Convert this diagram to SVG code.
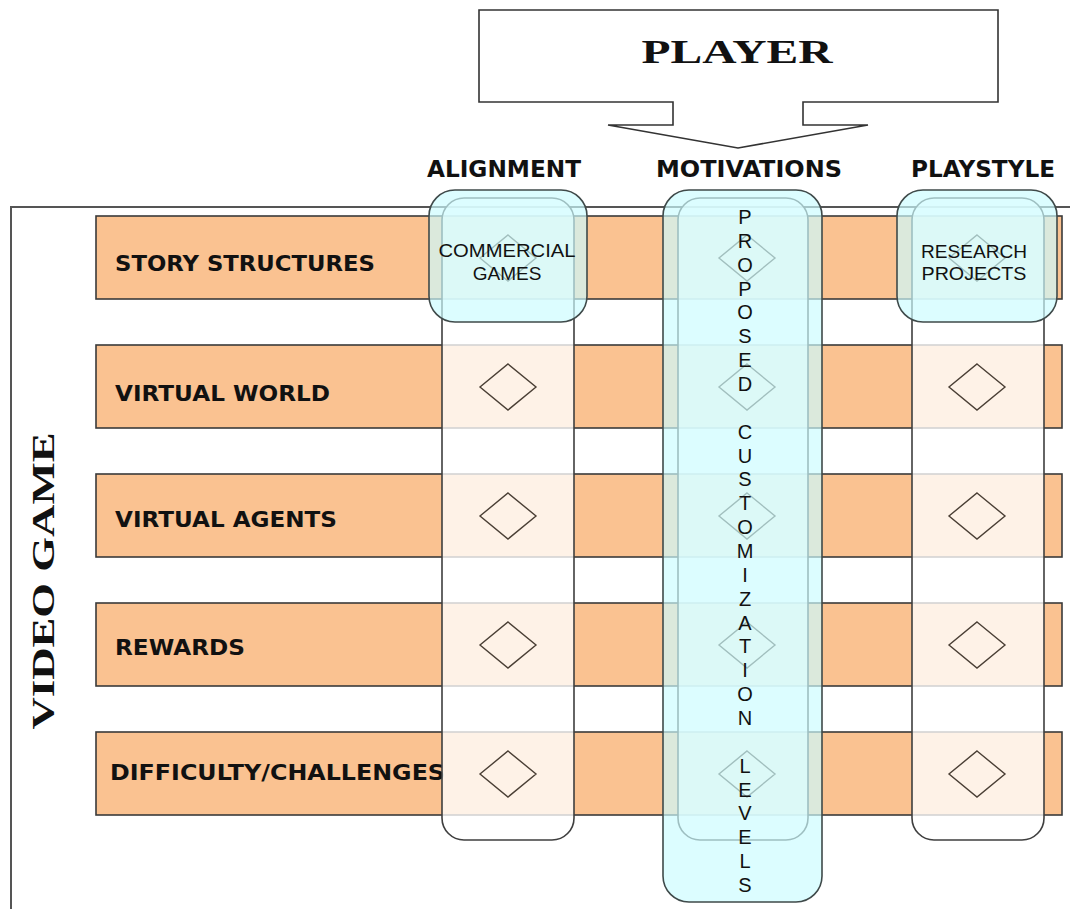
<svg xmlns="http://www.w3.org/2000/svg" width="1070" height="909" viewBox="0 0 1070 909">
<style>
.bar{fill:#FAC291;stroke:#3a3a3a;stroke-width:1.6}
.col{fill:#ffffff;fill-opacity:0.78;stroke:#3f3f3f;stroke-width:1.6}
.cyan{fill:#CCFCFF;fill-opacity:0.68;stroke:#3f4a4a;stroke-width:1.6}
.dia{fill:none;stroke:#4a3f35;stroke-width:1.4}
.row{font-family:"DejaVu Sans",Verdana,sans-serif;font-weight:bold;font-size:22px;fill:#111}
.hdr{font-family:"DejaVu Sans",Verdana,sans-serif;font-weight:bold;font-size:23px;fill:#111;text-anchor:middle}
.lab{font-family:"Liberation Sans",Arial,sans-serif;font-size:19px;fill:#111;text-anchor:middle}
.vl{font-family:"Liberation Sans",Arial,sans-serif;font-size:20px;fill:#111;text-anchor:middle}
</style>
<rect width="1070" height="909" fill="#ffffff"/>
<g id="video-game-frame">
<path d="M11,909 V207 H1070" fill="none" stroke="#555" stroke-width="2"/>
<text transform="translate(54,581) rotate(-90)" text-anchor="middle" font-family="Liberation Serif,'Times New Roman',serif" font-weight="bold" font-size="31" fill="#111" textLength="297" lengthAdjust="spacingAndGlyphs">VIDEO GAME</text>
</g>
<g id="player">
<path d="M479,10 H998 V102 H803 V125 H868 L738,148 L608,125 H673 V102 H479 Z" fill="#fff" stroke="#333" stroke-width="1.6"/>
<text x="737" y="63" text-anchor="middle" font-family="Liberation Serif,'Times New Roman',serif" font-weight="bold" font-size="34" fill="#111" textLength="191" lengthAdjust="spacingAndGlyphs">PLAYER</text>
</g>
<g id="headers">
<text class="hdr" x="504" y="177" textLength="154" lengthAdjust="spacingAndGlyphs">ALIGNMENT</text>
<text class="hdr" x="749" y="177" textLength="186" lengthAdjust="spacingAndGlyphs">MOTIVATIONS</text>
<text class="hdr" x="983" y="177" textLength="144" lengthAdjust="spacingAndGlyphs">PLAYSTYLE</text>
</g>
<g id="rows">
<g id="row-story"><rect class="bar" x="96" y="216" width="966" height="83"/><text class="row" x="115" y="271" textLength="260" lengthAdjust="spacingAndGlyphs">STORY STRUCTURES</text></g>
<g id="row-world"><rect class="bar" x="96" y="345" width="966" height="83"/><text class="row" x="115" y="401" textLength="215" lengthAdjust="spacingAndGlyphs">VIRTUAL WORLD</text></g>
<g id="row-agents"><rect class="bar" x="96" y="474" width="966" height="83"/><text class="row" x="115" y="527" textLength="222" lengthAdjust="spacingAndGlyphs">VIRTUAL AGENTS</text></g>
<g id="row-rewards"><rect class="bar" x="96" y="603" width="966" height="83"/><text class="row" x="115" y="655" textLength="130" lengthAdjust="spacingAndGlyphs">REWARDS</text></g>
<g id="row-difficulty"><rect class="bar" x="96" y="732" width="966" height="83"/><text class="row" x="110" y="780" textLength="335" lengthAdjust="spacingAndGlyphs">DIFFICULTY/CHALLENGES</text></g>
</g>
<g id="columns">
<rect id="col-alignment" class="col" x="442" y="198" width="132" height="642" rx="22"/>
<rect id="col-motivations" class="col" x="678" y="198" width="130" height="642" rx="22"/>
<rect id="col-playstyle" class="col" x="912" y="198" width="132" height="642" rx="22"/>
</g>
<g id="diamonds">
<path class="dia" d="M508,235 l28,23 l-28,23 l-28,-23 Z M508,364 l28,23 l-28,23 l-28,-23 Z M508,493 l28,23 l-28,23 l-28,-23 Z M508,622 l28,23 l-28,23 l-28,-23 Z M508,751 l28,23 l-28,23 l-28,-23 Z"/>
<path class="dia" d="M747,235 l28,23 l-28,23 l-28,-23 Z M747,364 l28,23 l-28,23 l-28,-23 Z M747,493 l28,23 l-28,23 l-28,-23 Z M747,622 l28,23 l-28,23 l-28,-23 Z M747,751 l28,23 l-28,23 l-28,-23 Z"/>
<path class="dia" d="M977,235 l28,23 l-28,23 l-28,-23 Z M977,364 l28,23 l-28,23 l-28,-23 Z M977,493 l28,23 l-28,23 l-28,-23 Z M977,622 l28,23 l-28,23 l-28,-23 Z M977,751 l28,23 l-28,23 l-28,-23 Z"/>
</g>
<g id="commercial-games">
<rect class="cyan" x="429" y="190" width="158" height="132" rx="26"/>
<text class="lab" x="507" y="257" textLength="137" lengthAdjust="spacingAndGlyphs">COMMERCIAL</text>
<text class="lab" x="507" y="280">GAMES</text>
</g>
<g id="research-projects">
<rect class="cyan" x="897" y="190" width="160" height="132" rx="26"/>
<text class="lab" x="974" y="258" textLength="106" lengthAdjust="spacingAndGlyphs">RESEARCH</text>
<text class="lab" x="974" y="280" textLength="105" lengthAdjust="spacingAndGlyphs">PROJECTS</text>
</g>
<g id="proposed-customization-levels">
<rect class="cyan" x="663" y="190" width="159" height="712" rx="26"/>
<text class="vl" x="745" y="224"><tspan x="745">P</tspan><tspan x="745" dy="23.86">R</tspan><tspan x="745" dy="23.86">O</tspan><tspan x="745" dy="23.86">P</tspan><tspan x="745" dy="23.86">O</tspan><tspan x="745" dy="23.86">S</tspan><tspan x="745" dy="23.86">E</tspan><tspan x="745" dy="23.86">D</tspan><tspan x="745" dy="47.72">C</tspan><tspan x="745" dy="23.86">U</tspan><tspan x="745" dy="23.86">S</tspan><tspan x="745" dy="23.86">T</tspan><tspan x="745" dy="23.86">O</tspan><tspan x="745" dy="23.86">M</tspan><tspan x="745" dy="23.86">I</tspan><tspan x="745" dy="23.86">Z</tspan><tspan x="745" dy="23.86">A</tspan><tspan x="745" dy="23.86">T</tspan><tspan x="745" dy="23.86">I</tspan><tspan x="745" dy="23.86">O</tspan><tspan x="745" dy="23.86">N</tspan><tspan x="745" dy="47.72">L</tspan><tspan x="745" dy="23.86">E</tspan><tspan x="745" dy="23.86">V</tspan><tspan x="745" dy="23.86">E</tspan><tspan x="745" dy="23.86">L</tspan><tspan x="745" dy="23.86">S</tspan></text>
</g>
<g id="connectors"></g>
</svg>
